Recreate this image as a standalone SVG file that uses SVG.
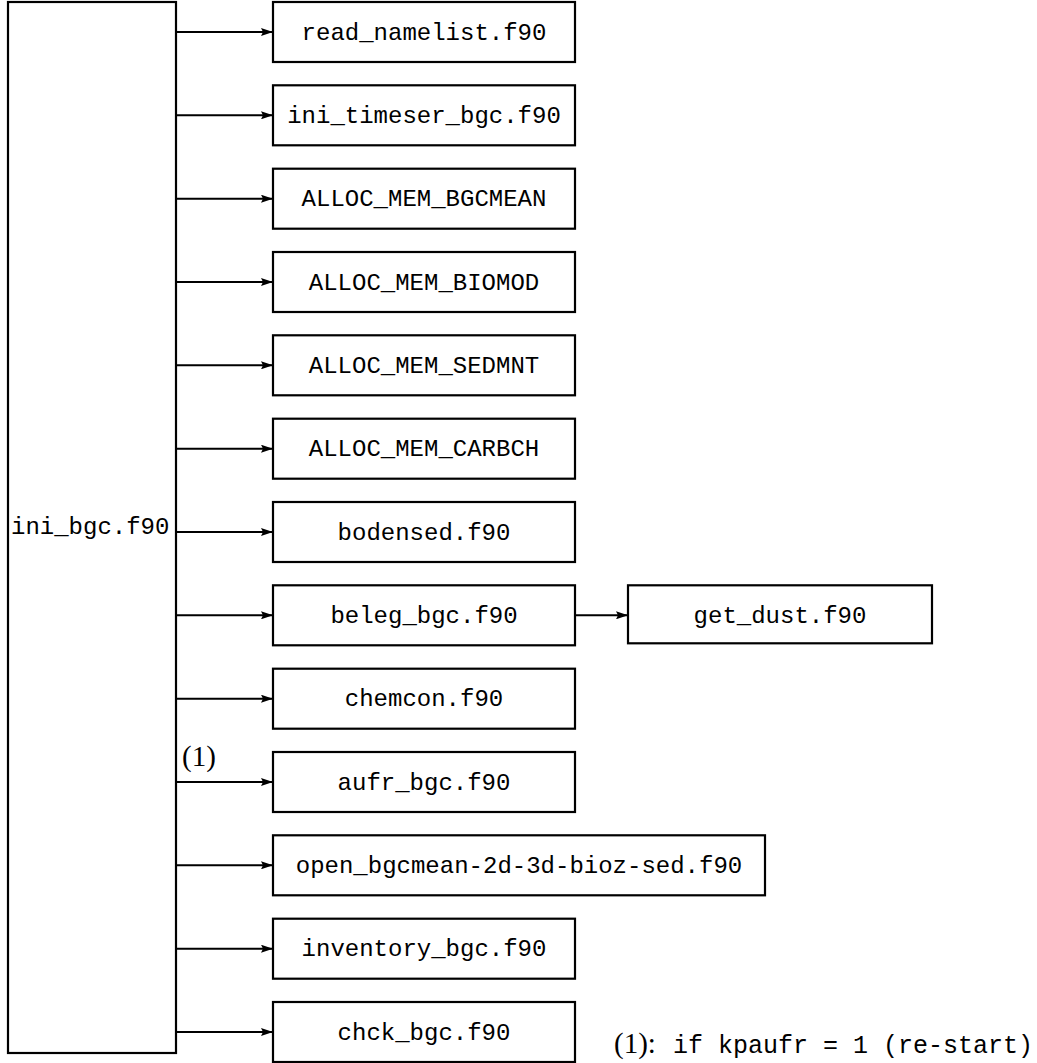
<svg xmlns="http://www.w3.org/2000/svg" width="1037" height="1063" viewBox="0 0 1037 1063">
<style>
.box{fill:#fff;stroke:#000;stroke-width:2.2}
.lbl{font-family:"Liberation Mono","DejaVu Sans Mono",monospace;font-size:24px;fill:#000;text-anchor:middle}
.mono{font-family:"Liberation Mono","DejaVu Sans Mono",monospace;font-size:24px;fill:#000}
.serif{font-family:"Liberation Serif","DejaVu Serif",serif;font-size:29px;fill:#000}
.conn{fill:none;stroke:#000;stroke-width:2;marker-end:url(#ah)}
</style>
<defs>
<marker id="ah" viewBox="0 0 12 8" refX="12" refY="4" markerWidth="12" markerHeight="8" markerUnits="userSpaceOnUse" orient="auto">
<path d="M0,0 L12,4 L0,8 L2,4 z" fill="#000"/>
</marker>
</defs>
<rect width="1037" height="1063" fill="#fff"/>
<g id="connectors">
<path class="conn" d="M176,32 H273"/>
<path class="conn" d="M176,115.3 H273"/>
<path class="conn" d="M176,198.7 H273"/>
<path class="conn" d="M176,282 H273"/>
<path class="conn" d="M176,365.3 H273"/>
<path class="conn" d="M176,448.7 H273"/>
<path class="conn" d="M176,532 H273"/>
<path class="conn" d="M176,615.3 H273"/>
<path class="conn" d="M176,698.7 H273"/>
<path class="conn" d="M176,782 H273"/>
<path class="conn" d="M176,865.3 H273"/>
<path class="conn" d="M176,948.7 H273"/>
<path class="conn" d="M176,1032 H273"/>
<path class="conn" d="M575,615.3 H628"/>
</g>
<g id="ini_bgc">
<rect class="box" x="8" y="2" width="168" height="1051"/>
<text class="mono" x="11" y="534">ini_bgc.f90</text>
</g>
<g id="read_namelist">
<rect class="box" x="273" y="2" width="302" height="60"/>
<text class="lbl" x="424" y="39.5">read_namelist.f90</text>
</g>
<g id="ini_timeser_bgc">
<rect class="box" x="273" y="85.3" width="302" height="60"/>
<text class="lbl" x="424" y="122.8">ini_timeser_bgc.f90</text>
</g>
<g id="alloc_mem_bgcmean">
<rect class="box" x="273" y="168.7" width="302" height="60"/>
<text class="lbl" x="424" y="206.2">ALLOC_MEM_BGCMEAN</text>
</g>
<g id="alloc_mem_biomod">
<rect class="box" x="273" y="252" width="302" height="60"/>
<text class="lbl" x="424" y="289.5">ALLOC_MEM_BIOMOD</text>
</g>
<g id="alloc_mem_sedmnt">
<rect class="box" x="273" y="335.3" width="302" height="60"/>
<text class="lbl" x="424" y="372.8">ALLOC_MEM_SEDMNT</text>
</g>
<g id="alloc_mem_carbch">
<rect class="box" x="273" y="418.7" width="302" height="60"/>
<text class="lbl" x="424" y="456.2">ALLOC_MEM_CARBCH</text>
</g>
<g id="bodensed">
<rect class="box" x="273" y="502" width="302" height="60"/>
<text class="lbl" x="424" y="539.5">bodensed.f90</text>
</g>
<g id="beleg_bgc">
<rect class="box" x="273" y="585.3" width="302" height="60"/>
<text class="lbl" x="424" y="622.8">beleg_bgc.f90</text>
</g>
<g id="get_dust">
<rect class="box" x="628" y="585.3" width="304" height="58"/>
<text class="lbl" x="780" y="622.8">get_dust.f90</text>
</g>
<g id="chemcon">
<rect class="box" x="273" y="668.7" width="302" height="60"/>
<text class="lbl" x="424" y="706.2">chemcon.f90</text>
</g>
<g id="aufr_bgc">
<rect class="box" x="273" y="752" width="302" height="60"/>
<text class="lbl" x="424" y="789.5">aufr_bgc.f90</text>
</g>
<g id="open_bgcmean">
<rect class="box" x="273" y="835.3" width="492" height="60"/>
<text class="lbl" x="519" y="872.8">open_bgcmean-2d-3d-bioz-sed.f90</text>
</g>
<g id="inventory_bgc">
<rect class="box" x="273" y="918.7" width="302" height="60"/>
<text class="lbl" x="424" y="956.2">inventory_bgc.f90</text>
</g>
<g id="chck_bgc">
<rect class="box" x="273" y="1002" width="302" height="60"/>
<text class="lbl" x="424" y="1039.5">chck_bgc.f90</text>
</g>
<g id="labels">
<text class="serif" x="182" y="766">(1)</text>
<text class="serif" x="614" y="1053">(1):</text>
<text class="mono" x="673" y="1053" style="font-size:25px">if kpaufr = 1 (re-start)</text>
</g>
</svg>
